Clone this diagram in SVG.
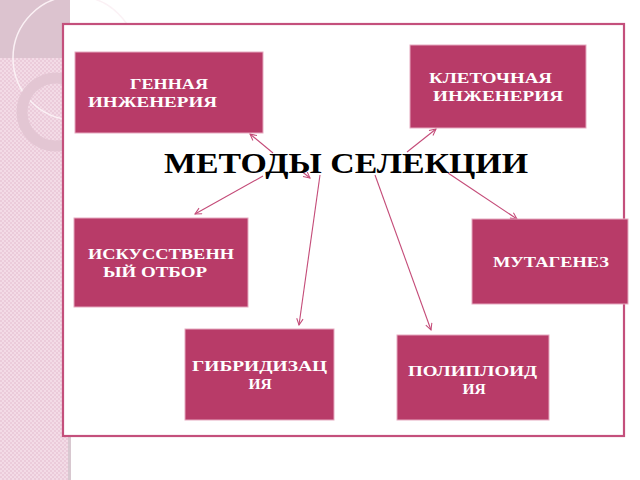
<svg xmlns="http://www.w3.org/2000/svg" width="640" height="480" viewBox="0 0 640 480">
<defs>
<pattern id="dots" width="4" height="4" patternUnits="userSpaceOnUse">
<rect width="4" height="4" fill="#f3dbe6"/>
<rect width="2" height="2" fill="#ebcbda"/>
<rect x="2" y="2" width="2" height="2" fill="#ebcbda"/>
</pattern>
<marker id="arr" viewBox="0 0 10 10" refX="9" refY="5" markerWidth="8" markerHeight="8" orient="auto" markerUnits="userSpaceOnUse">
<path d="M1,1 L9,5 L1,9" fill="none" stroke="#c44b78" stroke-width="1.3"/>
</marker>
</defs>
<style>
.box{fill:#b83b68;stroke:#e6aac0;stroke-width:1}
.t{font-family:"Liberation Serif","DejaVu Serif",serif;font-weight:bold;font-size:15.5px;fill:#ffffff}
.c{stroke:#c44b78;stroke-width:1.1;fill:none;marker-end:url(#arr)}
</style>
<rect width="640" height="480" fill="#ffffff"/>
<g id="background">
<rect x="0" y="0" width="70" height="480" fill="url(#dots)"/>
<rect x="0" y="0" width="70" height="58" fill="#dcc3cf"/>
<circle cx="75" cy="58" r="62" fill="none" stroke="#fbf1f5" stroke-width="1.5"/>
<circle cx="56" cy="112" r="34" fill="none" stroke="#e3c6d3" stroke-width="11"/>
<rect x="68" y="437" width="3" height="43" fill="#d8c8d0"/>
</g>
<rect id="frame" x="63" y="24" width="561" height="412" fill="#ffffff" stroke="#c4507c" stroke-width="2.2"/>
<g id="connectors">
<line class="c" x1="273" y1="153" x2="250" y2="134"/>
<line class="c" x1="300" y1="170" x2="310" y2="178"/>
<line class="c" x1="263" y1="176" x2="195" y2="214"/>
<line class="c" x1="320" y1="175" x2="299" y2="325"/>
<line class="c" x1="375" y1="175" x2="431" y2="330"/>
<line class="c" x1="448" y1="173" x2="517" y2="219"/>
<line class="c" x1="407" y1="152" x2="436" y2="129"/>
</g>
<g id="title">
<rect x="270" y="154" width="180" height="18" fill="#ffffff"/>
<text x="164" y="173" font-family="'Liberation Serif','DejaVu Serif',serif" font-weight="bold" font-size="30" fill="#000000" textLength="364" lengthAdjust="spacingAndGlyphs">МЕТОДЫ СЕЛЕКЦИИ</text>
</g>
<g id="gene">
<rect class="box" x="75" y="52" width="188" height="81"/>
<text class="t" x="130" y="89" textLength="78" lengthAdjust="spacingAndGlyphs">ГЕННАЯ</text>
<text class="t" x="88" y="107" textLength="129" lengthAdjust="spacingAndGlyphs">ИНЖЕНЕРИЯ</text>
</g>
<g id="cell">
<rect class="box" x="410" y="45" width="176" height="83"/>
<text class="t" x="429" y="83" textLength="123" lengthAdjust="spacingAndGlyphs">КЛЕТОЧНАЯ</text>
<text class="t" x="433" y="101" textLength="130" lengthAdjust="spacingAndGlyphs">ИНЖЕНЕРИЯ</text>
</g>
<g id="artificial">
<rect class="box" x="74" y="218" width="174" height="89"/>
<text class="t" x="88" y="259" textLength="146" lengthAdjust="spacingAndGlyphs">ИСКУССТВЕНН</text>
<text class="t" x="103" y="277" textLength="104" lengthAdjust="spacingAndGlyphs">ЫЙ ОТБОР</text>
</g>
<g id="mutagenesis">
<rect class="box" x="472" y="219" width="156" height="85"/>
<text class="t" x="493" y="267" textLength="116" lengthAdjust="spacingAndGlyphs">МУТАГЕНЕЗ</text>
</g>
<g id="hybridization">
<rect class="box" x="185" y="329" width="149" height="91"/>
<text class="t" x="192" y="371" textLength="135" lengthAdjust="spacingAndGlyphs">ГИБРИДИЗАЦ</text>
<text class="t" x="260" y="389" text-anchor="middle">ИЯ</text>
</g>
<g id="polyploidy">
<rect class="box" x="397" y="335" width="152" height="85"/>
<text class="t" x="408" y="376" textLength="129" lengthAdjust="spacingAndGlyphs">ПОЛИПЛОИД</text>
<text class="t" x="474" y="394" text-anchor="middle">ИЯ</text>
</g>
</svg>
